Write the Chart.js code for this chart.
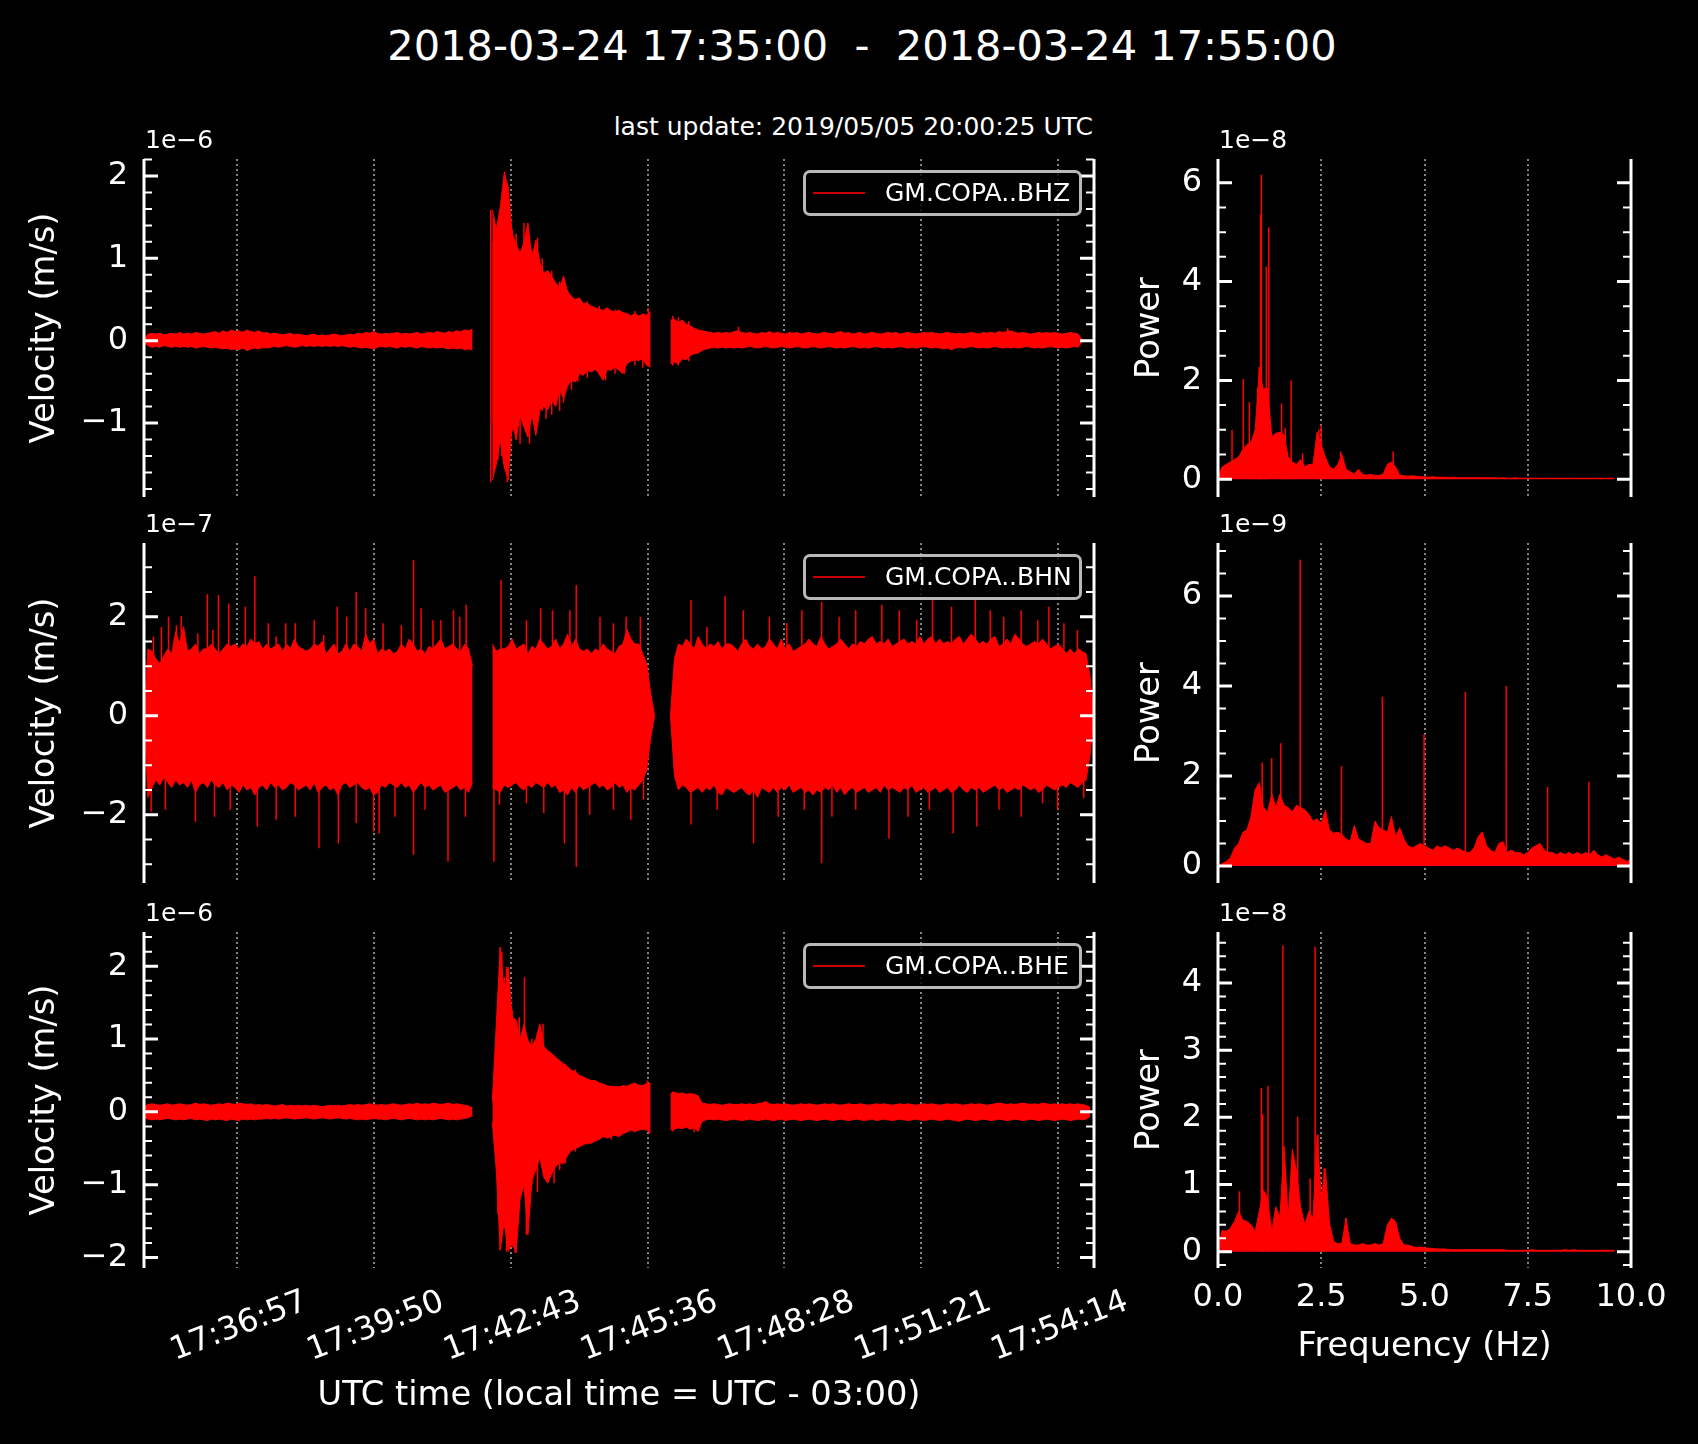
<!DOCTYPE html>
<html>
<head>
<meta charset="utf-8">
<title>GM.COPA seismogram</title>
<script src="https://cdn.jsdelivr.net/npm/chart.js@4.4.1/dist/chart.umd.min.js"></script>
<style>
  html, body { margin:0; padding:0; background:#000; }
  body { width:1698px; height:1444px; position:relative; overflow:hidden; font-family:'DejaVu Sans', sans-serif; color:#fff; }
  canvas { position:absolute; }
  .txt { position:absolute; white-space:pre; color:#fff; }
  .legend { position:absolute; box-sizing:border-box; border:3px solid rgba(255,255,255,0.72); border-radius:7px; background:rgba(0,0,0,0.8); z-index:5; }
  .legend .ln { position:absolute; left:7px; top:19px; width:52px; height:2px; background:#c80000; }
  .legend .lb { position:absolute; left:79px; top:0; line-height:40px; font-size:25px; color:#fff; white-space:pre; }
</style>
</head>
<body>
<div class="txt" style="left:0;width:1724px;text-align:center;top:21px;font-size:41.5px;line-height:50px;">2018-03-24 17:35:00  -  2018-03-24 17:55:00</div>
<div class="txt" style="right:605px;top:112px;font-size:25px;line-height:30px;text-align:right;">last update: 2019/05/05 20:00:25 UTC</div>
<script>
// ---------------- DATA ----------------
const SEIS_STEP_S = 5;

// BHZ velocity, units of 1e-6 m/s
const BHZ_UP = [
 0.02,0.08,0.09,0.08,0.09,0.07,0.08,0.09,0.08,0.10,
 0.08,0.09,0.08,0.10,0.09,0.08,0.09,0.10,0.11,0.09,
 0.12,0.10,0.13,0.11,0.12,0.10,0.13,0.11,0.10,0.12,
 0.09,0.10,0.08,0.09,0.08,0.07,0.08,0.09,0.07,0.08,
 0.07,0.06,0.07,0.08,0.06,0.07,0.06,0.07,0.08,0.07,
 0.06,0.07,0.08,0.07,0.09,0.08,0.10,0.09,0.11,0.09,
 0.08,0.09,0.08,0.09,0.10,0.08,0.09,0.08,0.09,0.10,
 0.08,0.09,0.10,0.09,0.11,0.10,0.09,0.11,0.10,0.12,
 0.11,0.13,0.12,0.14,null,null,null,null,1.59,1.35,
 1.62,2.03,1.87,1.30,1.18,1.05,1.20,1.43,1.00,1.22,
 0.95,0.82,0.85,0.78,0.70,0.65,0.78,0.60,0.53,0.50,
 0.52,0.45,0.45,0.42,0.40,0.38,0.37,0.40,0.36,0.35,
 0.37,0.34,0.33,0.30,0.33,0.30,0.32,0.31,0.35,null,
 null,null,null,0.25,0.26,0.22,0.25,0.20,0.18,0.15,
 0.13,0.12,0.11,0.10,0.09,0.10,0.09,0.10,0.09,0.11,
 0.12,0.10,0.09,0.10,0.09,0.08,0.10,0.09,0.11,0.09,
 0.10,0.09,0.08,0.10,0.09,0.10,0.08,0.09,0.10,0.09,
 0.08,0.09,0.10,0.09,0.08,0.10,0.11,0.09,0.10,0.08,
 0.09,0.10,0.08,0.09,0.10,0.09,0.08,0.09,0.10,0.09,
 0.10,0.08,0.09,0.10,0.09,0.08,0.09,0.10,0.09,0.10,
 0.09,0.08,0.09,0.10,0.09,0.08,0.09,0.08,0.09,0.10,
 0.09,0.08,0.10,0.09,0.10,0.09,0.11,0.10,0.11,0.12,
 0.10,0.09,0.10,0.09,0.08,0.09,0.10,0.09,0.10,0.09,
 0.10,0.09,0.08,0.09,0.10,0.09,0.08,0.01,0.00,null,null];
const BHZ_LO = [
 -0.02,-0.06,-0.08,-0.07,-0.08,-0.06,-0.07,-0.08,-0.07,-0.08,
 -0.07,-0.08,-0.07,-0.09,-0.08,-0.07,-0.08,-0.09,-0.08,-0.09,
 -0.10,-0.09,-0.11,-0.10,-0.11,-0.09,-0.12,-0.10,-0.09,-0.10,
 -0.08,-0.09,-0.08,-0.07,-0.08,-0.07,-0.06,-0.07,-0.08,-0.07,
 -0.06,-0.07,-0.06,-0.07,-0.06,-0.07,-0.06,-0.07,-0.06,-0.07,
 -0.06,-0.07,-0.08,-0.07,-0.08,-0.09,-0.08,-0.09,-0.10,-0.08,
 -0.07,-0.08,-0.07,-0.08,-0.09,-0.07,-0.08,-0.07,-0.08,-0.09,
 -0.07,-0.08,-0.09,-0.08,-0.09,-0.08,-0.09,-0.10,-0.09,-0.10,
 -0.09,-0.11,-0.10,-0.11,null,null,null,null,-1.69,-1.50,
 -1.20,-1.53,-1.69,-1.00,-1.20,-0.90,-1.05,-1.17,-0.90,-1.15,
 -0.85,-0.80,-0.84,-0.72,-0.80,-0.60,-0.70,-0.55,-0.48,-0.50,
 -0.40,-0.42,-0.36,-0.38,-0.35,-0.40,-0.48,-0.35,-0.36,-0.32,
 -0.36,-0.40,-0.28,-0.25,-0.23,-0.24,-0.22,-0.30,-0.32,null,
 null,null,null,-0.28,-0.26,-0.28,-0.22,-0.23,-0.18,-0.16,
 -0.15,-0.12,-0.10,-0.09,-0.08,-0.09,-0.08,-0.09,-0.08,-0.09,
 -0.08,-0.09,-0.08,-0.07,-0.08,-0.09,-0.08,-0.07,-0.08,-0.09,
 -0.08,-0.07,-0.08,-0.09,-0.08,-0.07,-0.08,-0.09,-0.08,-0.07,
 -0.08,-0.09,-0.08,-0.07,-0.08,-0.09,-0.08,-0.09,-0.08,-0.07,
 -0.08,-0.09,-0.08,-0.09,-0.08,-0.07,-0.08,-0.09,-0.08,-0.09,
 -0.08,-0.07,-0.08,-0.09,-0.08,-0.09,-0.08,-0.07,-0.08,-0.09,
 -0.08,-0.09,-0.10,-0.09,-0.11,-0.09,-0.08,-0.09,-0.08,-0.07,
 -0.08,-0.09,-0.08,-0.09,-0.08,-0.07,-0.08,-0.09,-0.08,-0.09,
 -0.08,-0.09,-0.08,-0.07,-0.08,-0.09,-0.08,-0.09,-0.08,-0.07,
 -0.08,-0.09,-0.08,-0.09,-0.08,-0.07,-0.08,-0.01,0.00,null,null];
const BHZ_SPIKE_T  = [438, 441, 447, 452, 455.5, 459, 465, 470, 475, 480, 487, 490, 497, 503, 508, 515, 525, 530, 540, 548, 560, 575, 583, 595, 607, 620, 630, 637, 668, 675, 688, 751, 1091];
const BHZ_SPIKE_LO = [-1.72,-1.00,-1.45,-1.40,-1.00,-1.72,-1.10,-1.20,-1.25,-0.80,-1.25,-0.95,-1.00,-0.85,-0.95,-0.90,-0.85,-0.75,-0.60,-0.50,-0.45,-0.42,-0.48,-0.40,-0.40,-0.30,-0.33,-0.30,-0.30,-0.30,-0.25,-0.05,-0.05];
const BHZ_SPIKE_HI = [1.59,1.20,1.00,1.70,2.05,1.88,1.35,1.30,1.10,1.43,0.90,1.10,1.25,1.00,0.60,0.85,0.72,0.78,0.55,0.50,0.48,0.42,0.30,0.38,0.30,0.36,0.33,0.40,0.30,0.28,0.24,0.17,0.15];

// BHN velocity, units of 1e-7 m/s
const BHN_UP = [
 0.00,1.35,1.30,1.15,1.05,1.20,1.35,1.25,1.70,1.45,
 1.80,1.30,1.35,1.45,1.25,1.35,1.35,1.45,1.35,1.25,
 1.35,1.45,1.40,1.45,1.35,1.45,1.40,1.55,1.45,1.50,
 1.35,1.45,1.35,1.40,1.45,1.30,1.45,1.35,1.55,1.40,
 1.35,1.30,1.35,1.45,1.40,1.50,1.25,1.35,1.45,1.25,
 1.30,1.45,1.30,1.45,1.40,1.30,1.65,1.45,1.55,1.25,
 1.35,1.30,1.35,1.25,1.30,1.45,1.35,1.55,1.45,1.30,
 1.35,1.25,1.40,1.35,1.45,1.55,1.35,1.40,1.45,1.35,
 1.30,1.45,1.35,1.00,null,null,null,null,1.45,1.30,
 1.35,1.35,1.40,1.55,1.35,1.40,1.45,1.25,1.40,1.35,
 1.55,1.45,1.35,1.40,1.55,1.35,1.45,1.65,1.40,1.55,
 1.35,1.30,1.35,1.25,1.35,1.30,1.45,1.35,1.30,1.25,
 1.40,1.45,1.75,1.55,1.45,1.45,1.25,1.05,0.45,0.00,
 null,null,null,0.00,1.15,1.45,1.40,1.55,1.45,1.35,
 1.60,1.45,1.35,1.45,1.40,1.50,1.35,1.45,1.45,1.40,
 1.30,1.45,1.55,1.40,1.35,1.45,1.35,1.40,1.55,1.45,
 1.35,1.55,1.35,1.45,1.30,1.35,1.40,1.45,1.55,1.45,
 1.40,1.60,1.45,1.35,1.40,1.45,1.55,1.45,1.35,1.45,
 1.40,1.50,1.45,1.55,1.60,1.45,1.50,1.45,1.55,1.40,
 1.45,1.50,1.55,1.45,1.50,1.45,1.60,1.45,1.55,1.60,
 1.45,1.55,1.45,1.50,1.45,1.55,1.60,1.45,1.55,1.65,
 1.55,1.45,1.50,1.45,1.55,1.60,1.40,1.45,1.55,1.45,
 1.65,1.55,1.45,1.40,1.45,1.50,1.45,1.55,1.45,1.35,
 1.40,1.45,1.35,1.25,1.35,1.25,1.35,1.30,1.25,0.80,0.00];
const BHN_LO = [
 0.00,-1.65,-1.45,-1.30,-1.40,-1.25,-1.35,-1.45,-1.30,-1.40,
 -1.35,-1.45,-1.30,-1.55,-1.40,-1.35,-1.45,-1.30,-1.40,-1.45,
 -1.35,-1.50,-1.40,-1.45,-1.55,-1.40,-1.50,-1.45,-1.60,-1.45,
 -1.40,-1.50,-1.35,-1.45,-1.40,-1.50,-1.45,-1.35,-1.40,-1.50,
 -1.45,-1.40,-1.50,-1.35,-1.55,-1.45,-1.40,-1.50,-1.45,-1.60,
 -1.40,-1.35,-1.45,-1.40,-1.35,-1.45,-1.50,-1.45,-1.60,-1.55,
 -1.40,-1.45,-1.35,-1.40,-1.45,-1.35,-1.45,-1.40,-1.55,-1.45,
 -1.35,-1.45,-1.40,-1.50,-1.45,-1.40,-1.55,-1.50,-1.45,-1.40,
 -1.50,-1.45,-1.55,-1.35,null,null,null,null,-1.45,-1.50,
 -1.55,-1.40,-1.45,-1.40,-1.35,-1.45,-1.50,-1.40,-1.45,-1.35,
 -1.40,-1.45,-1.35,-1.45,-1.40,-1.55,-1.50,-1.60,-1.45,-1.55,
 -1.40,-1.50,-1.45,-1.40,-1.35,-1.45,-1.40,-1.50,-1.45,-1.35,
 -1.45,-1.40,-1.55,-1.45,-1.50,-1.40,-1.30,-1.10,-0.45,0.00,
 null,null,null,0.00,-1.20,-1.50,-1.40,-1.45,-1.55,-1.50,
 -1.45,-1.55,-1.45,-1.50,-1.40,-1.55,-1.60,-1.45,-1.50,-1.55,
 -1.50,-1.45,-1.55,-1.60,-1.50,-1.65,-1.45,-1.50,-1.55,-1.45,
 -1.55,-1.45,-1.50,-1.40,-1.55,-1.50,-1.45,-1.55,-1.50,-1.60,
 -1.50,-1.55,-1.45,-1.50,-1.40,-1.55,-1.45,-1.60,-1.50,-1.45,
 -1.55,-1.50,-1.45,-1.55,-1.50,-1.45,-1.55,-1.40,-1.50,-1.45,
 -1.50,-1.55,-1.45,-1.50,-1.40,-1.55,-1.50,-1.45,-1.55,-1.50,
 -1.45,-1.55,-1.50,-1.45,-1.55,-1.50,-1.40,-1.50,-1.55,-1.45,
 -1.50,-1.45,-1.55,-1.50,-1.45,-1.40,-1.50,-1.45,-1.55,-1.50,
 -1.45,-1.50,-1.40,-1.45,-1.50,-1.45,-1.55,-1.50,-1.40,-1.45,
 -1.50,-1.45,-1.40,-1.45,-1.35,-1.40,-1.45,-1.35,-1.30,-0.80,0.00];
const BHN_SPIKE_T = [
 9,12,22,27,31,41,47,65,68,80,87,89,94,107,109,128,140,143,157,167,179,191,215,221,227,244,245.5,256,268,280,
 290,297,302,317,325,340.5,350,355,365,375,384,391,399,406,407,442,449,451,483,501,505,516,531,538,546,563,576,593,609,615,
 627,631,691,711,724,734,757,770,790,801,812,831,834,856,869,878,899,932,941,954,965,976,992,996,1020,1022,1050,1052,1069,1080,
 1086,1108,1129,1135,1143,1154,1162,1179,1187];
const BHN_SPIKE_LO = [
 -1.94,0,0,-1.90,0,0,0,-2.14,0,0,0,-2.04,0,0,-1.90,0,0,-2.24,0,-2.10,0,-2.04,0,-2.68,0,0,-2.58,0,-2.17,0,
 -2.34,-2.38,0,-2.04,0,-2.81,0,-1.90,0,0,-2.95,0,0,-2.04,0,-2.95,-1.80,0,-1.77,0,-1.97,0,-2.58,0,-3.05,-2.00,0,-1.90,0,-2.10,
 0,-1.70,-2.20,0,-1.90,0,0,-2.58,0,-2.04,0,0,-1.90,-2.98,-2.04,0,-1.90,0,-2.48,0,-2.04,0,-1.90,0,0,-2.38,0,-2.24,0,-1.90,
 0,-2.04,0,-1.77,0,-1.90,0,0,-1.67];
const BHN_SPIKE_HI = [
 0,1.60,1.80,0,2.00,1.83,2.01,0,1.66,2.46,1.73,0,2.44,2.27,0,2.20,2.82,0,1.87,1.60,1.87,1.87,1.93,0,1.63,2.20,0,2.00,2.50,2.17,
 0,0,1.87,0,1.83,3.14,2.17,0,1.93,1.93,0,2.13,2.00,0,2.24,0,0,2.74,1.93,2.17,0,2.13,0,2.13,2.64,0,2.00,1.87,2.00,0,
 2.00,0,2.34,1.80,0,2.42,2.13,0,2.00,0,1.87,2.13,0,2.30,0,2.00,2.13,2.24,0,2.13,0,1.93,0,2.34,2.20,0,2.34,0,2.13,0,
 2.00,2.13,1.93,0,2.20,0,1.87,1.73,0];

// BHE velocity, units of 1e-6 m/s
const BHE_UP = [
 0.08,0.10,0.11,0.10,0.09,0.10,0.11,0.09,0.10,0.11,
 0.10,0.09,0.10,0.12,0.10,0.11,0.10,0.09,0.10,0.11,
 0.10,0.12,0.11,0.10,0.12,0.11,0.10,0.11,0.09,0.10,
 0.09,0.10,0.09,0.08,0.09,0.10,0.08,0.09,0.08,0.09,
 0.08,0.09,0.08,0.09,0.08,0.07,0.08,0.09,0.08,0.09,
 0.08,0.09,0.10,0.09,0.10,0.09,0.10,0.11,0.10,0.09,
 0.10,0.09,0.10,0.11,0.10,0.09,0.10,0.11,0.10,0.12,
 0.10,0.11,0.10,0.12,0.11,0.10,0.11,0.12,0.10,0.11,
 0.10,0.09,0.08,0.05,null,null,null,null,0.15,1.20,
 2.26,1.60,1.99,1.30,1.26,1.00,1.20,0.98,0.90,1.00,
 1.21,0.90,0.84,0.80,0.75,0.70,0.66,0.62,0.57,0.55,
 0.50,0.48,0.45,0.43,0.43,0.40,0.38,0.36,0.34,0.35,
 0.34,0.36,0.35,0.38,0.39,0.37,0.36,0.39,0.39,null,
 null,null,null,0.25,0.27,0.25,0.26,0.24,0.25,0.24,
 0.22,0.12,0.11,0.10,0.11,0.10,0.09,0.10,0.11,0.10,
 0.10,0.11,0.10,0.11,0.10,0.11,0.12,0.14,0.11,0.10,
 0.11,0.10,0.11,0.10,0.09,0.10,0.11,0.10,0.11,0.10,
 0.09,0.10,0.11,0.10,0.11,0.10,0.09,0.10,0.11,0.10,
 0.10,0.11,0.10,0.09,0.10,0.11,0.10,0.11,0.10,0.09,
 0.10,0.11,0.10,0.11,0.10,0.09,0.10,0.11,0.10,0.11,
 0.10,0.09,0.10,0.11,0.10,0.11,0.10,0.09,0.10,0.11,
 0.10,0.11,0.10,0.09,0.10,0.11,0.12,0.11,0.10,0.11,
 0.10,0.11,0.12,0.11,0.10,0.11,0.10,0.12,0.11,0.10,
 0.11,0.10,0.11,0.10,0.11,0.10,0.11,0.10,0.09,0.06,null];
const BHE_LO = [
 -0.08,-0.10,-0.11,-0.10,-0.11,-0.10,-0.09,-0.10,-0.11,-0.10,
 -0.11,-0.10,-0.09,-0.11,-0.10,-0.11,-0.12,-0.10,-0.11,-0.10,
 -0.11,-0.12,-0.10,-0.11,-0.12,-0.10,-0.11,-0.10,-0.11,-0.10,
 -0.10,-0.09,-0.10,-0.09,-0.10,-0.09,-0.08,-0.09,-0.10,-0.09,
 -0.09,-0.08,-0.09,-0.10,-0.09,-0.08,-0.09,-0.10,-0.09,-0.08,
 -0.09,-0.10,-0.09,-0.10,-0.11,-0.10,-0.11,-0.10,-0.09,-0.10,
 -0.10,-0.11,-0.10,-0.09,-0.10,-0.11,-0.10,-0.09,-0.10,-0.11,
 -0.10,-0.11,-0.10,-0.11,-0.10,-0.09,-0.10,-0.11,-0.10,-0.11,
 -0.10,-0.09,-0.08,-0.05,null,null,null,null,-0.15,-0.80,
 -1.90,-1.50,-1.92,-1.80,-1.94,-1.20,-1.00,-1.69,-0.94,-0.80,
 -0.62,-0.90,-0.98,-0.85,-0.75,-0.70,-0.71,-0.60,-0.53,-0.50,
 -0.48,-0.45,-0.43,-0.43,-0.40,-0.38,-0.34,-0.36,-0.34,-0.32,
 -0.34,-0.30,-0.28,-0.25,-0.27,-0.25,-0.24,-0.25,-0.30,null,
 null,null,null,-0.25,-0.24,-0.22,-0.23,-0.21,-0.24,-0.22,
 -0.27,-0.13,-0.11,-0.10,-0.11,-0.10,-0.11,-0.12,-0.11,-0.10,
 -0.11,-0.12,-0.11,-0.10,-0.11,-0.12,-0.11,-0.10,-0.11,-0.12,
 -0.11,-0.10,-0.12,-0.11,-0.10,-0.11,-0.12,-0.11,-0.10,-0.11,
 -0.12,-0.11,-0.10,-0.11,-0.12,-0.11,-0.10,-0.11,-0.12,-0.11,
 -0.10,-0.11,-0.12,-0.11,-0.10,-0.12,-0.11,-0.10,-0.11,-0.12,
 -0.11,-0.10,-0.11,-0.12,-0.11,-0.10,-0.11,-0.12,-0.11,-0.10,
 -0.11,-0.12,-0.11,-0.10,-0.11,-0.12,-0.13,-0.11,-0.10,-0.11,
 -0.12,-0.11,-0.10,-0.11,-0.12,-0.11,-0.10,-0.11,-0.12,-0.11,
 -0.10,-0.11,-0.12,-0.11,-0.10,-0.11,-0.12,-0.11,-0.10,-0.11,
 -0.12,-0.11,-0.10,-0.11,-0.12,-0.11,-0.10,-0.11,-0.10,-0.06,null];
const BHE_SPIKE_T  = [447, 450, 452, 455, 458, 460, 465, 469, 474, 480.6, 483, 490, 497, 504, 510, 518, 525, 532, 545, 560, 590, 620, 636, 668, 695, 784.5];
const BHE_SPIKE_LO = [-1.40,-1.90,-1.50,-1.60,-1.92,-1.80,-1.85,-1.94,-1.30,-1.00,-1.69,-1.00,-1.10,-0.62,-0.90,-0.98,-0.80,-0.71,-0.55,-0.45,-0.38,-0.28,-0.20,-0.27,-0.28,-0.05];
const BHE_SPIKE_HI = [1.30,2.26,2.20,1.85,1.99,1.95,1.40,1.26,1.30,1.85,0.90,1.00,0.90,1.21,0.84,0.60,0.70,0.66,0.58,0.45,0.36,0.40,0.43,0.28,0.25,0.14];

// Power spectra, sampled every 0.1 Hz from 0 Hz
const PSD_STEP_HZ = 0.1;
const BHZ_PSD = [ // 1e-8
 0.05,0.25,0.30,0.35,0.40,0.45,0.60,0.70,0.75,1.00,
 2.20,1.80,1.85,0.86,0.93,0.95,0.90,0.45,0.35,0.30,
 0.40,0.25,0.30,0.30,0.95,0.70,0.45,0.25,0.20,0.30,
 0.50,0.20,0.15,0.10,0.20,0.10,0.08,0.10,0.07,0.08,
 0.10,0.30,0.35,0.25,0.08,0.07,0.06,0.07,0.06,0.05,
 0.05,0.04,0.05,0.04,0.04,0.04,0.03,0.04,0.03,0.03,
 0.03,0.03,0.03,0.03,0.03,0.03,0.03,0.03,0.02,0.03,
 0.02,0.02,0.03,0.02,0.02,0.02,0.02,0.02,0.02,0.02,
 0.02,0.02,0.02,0.02,0.02,0.02,0.02,0.02,0.02,0.02,
 0.02,0.02,0.02,0.02,0.02,0.02,0.02,null,null,null,null];
const BHZ_PSD_SPIKE_F = [0.34,0.61,0.76,0.96,1.00,1.03,1.05,1.12,1.17,1.23,1.54,1.63,1.77,2.05,2.44,2.50,2.97,4.24];
const BHZ_PSD_SPIKE_P = [1.00,2.03,1.56,1.85,2.27,5.36,6.16,1.85,4.30,5.10,1.53,1.03,2.00,0.52,1.00,1.10,0.56,0.56];

const BHN_PSD = [ // 1e-9
 0.02,0.05,0.10,0.18,0.40,0.50,0.75,0.80,1.10,1.70,
 1.85,1.30,1.20,1.60,1.30,1.60,1.35,1.30,1.20,1.35,
 1.30,1.25,1.15,1.00,1.05,0.95,1.24,0.80,0.73,0.75,
 0.70,0.60,0.55,0.90,0.60,0.55,0.50,0.50,1.00,0.85,
 0.80,0.75,1.10,0.65,0.85,0.60,0.45,0.40,0.45,0.50,
 0.45,0.40,0.35,0.45,0.40,0.45,0.40,0.35,0.40,0.35,
 0.30,0.30,0.40,0.65,0.76,0.45,0.35,0.30,0.50,0.54,
 0.30,0.35,0.30,0.30,0.25,0.30,0.40,0.45,0.50,0.35,
 0.30,0.30,0.25,0.30,0.25,0.30,0.25,0.30,0.25,0.30,
 0.25,0.35,0.25,0.20,0.25,0.20,0.15,0.20,0.15,0.10,0.15];
const BHN_PSD_SPIKE_F = [0.83,1.07,1.30,1.52,1.99,2.99,3.98,4.99,5.99,6.98,7.98,8.98];
const BHN_PSD_SPIKE_P = [1.13,2.30,2.40,2.73,6.81,2.22,3.76,2.93,3.87,4.00,1.76,1.87];

const BHE_PSD = [ // 1e-8
 0.05,0.32,0.30,0.35,0.45,0.60,0.47,0.45,0.40,0.30,
 0.60,0.92,0.80,0.30,0.67,0.50,1.57,0.50,1.52,1.20,
 0.67,0.40,0.60,0.50,1.74,0.80,1.24,0.42,0.15,0.12,
 0.12,0.50,0.12,0.10,0.10,0.12,0.10,0.10,0.12,0.10,
 0.12,0.40,0.50,0.45,0.20,0.10,0.10,0.08,0.06,0.07,
 0.06,0.05,0.05,0.04,0.04,0.04,0.03,0.03,0.03,0.03,
 0.03,0.03,0.03,0.03,0.03,0.03,0.03,0.03,0.03,0.03,
 0.02,0.02,0.02,0.02,0.02,0.02,0.03,0.02,0.02,0.02,
 0.02,0.02,0.02,0.02,0.03,0.02,0.03,0.02,0.02,0.02,
 0.02,0.02,0.02,0.02,0.02,0.02,0.02,null,null,null,null];
const BHE_PSD_SPIKE_F = [0.52,1.05,1.08,1.21,1.57,1.93,2.23,2.35,2.42,2.57,3.10];
const BHE_PSD_SPIKE_P = [0.90,2.44,2.05,2.47,4.56,2.01,1.09,4.54,1.74,1.24,0.50];

// Axis ticks and labels
const TIME_TICKS_S = [117.6, 290.4, 463.2, 636.0, 808.8, 981.6, 1154.4];
const TIME_TICK_LABELS = ['17:36:57','17:39:50','17:42:43','17:45:36','17:48:28','17:51:21','17:54:14'];
const FREQ_TICKS_HZ = [0, 2.5, 5, 7.5, 10];
const FREQ_TICK_LABELS = ['0.0','2.5','5.0','7.5','10.0'];
const BHZ_VEL_TICKS = [-1, 0, 1, 2];      const BHZ_VEL_LABELS = ['\u22121','0','1','2'];
const BHN_VEL_TICKS = [-2, 0, 2];         const BHN_VEL_LABELS = ['\u22122','0','2'];
const BHE_VEL_TICKS = [-2, -1, 0, 1, 2];  const BHE_VEL_LABELS = ['\u22122','\u22121','0','1','2'];
const BHZ_PSD_TICKS = [0, 2, 4, 6];       const BHZ_PSD_LABELS = ['0','2','4','6'];
const BHN_PSD_TICKS = [0, 2, 4, 6];       const BHN_PSD_LABELS = ['0','2','4','6'];
const BHE_PSD_TICKS = [0, 1, 2, 3, 4];    const BHE_PSD_LABELS = ['0','1','2','3','4'];
const LEGEND_LABELS = ['GM.COPA..BHZ', 'GM.COPA..BHN', 'GM.COPA..BHE'];
const OFFSET_LABELS = ['1e\u22126', '1e\u22127', '1e\u22126', '1e\u22128', '1e\u22129', '1e\u22128'];

// ---------------- STYLE / LAYOUT ----------------
const RED = '#ff0000';
const GRID_COLOR = 'rgba(175,175,175,0.75)';
const TICK_FONT = 32;
const LABEL_FONT = 33.7;
Chart.defaults.font.family = "'DejaVu Sans', sans-serif";
Chart.defaults.color = '#ffffff';

const spinePlugin = {
  id: 'mplSpines',
  afterDraw(chart, args, o) {
    if (!o || !o.major) return;
    const ctx = chart.ctx, a = chart.chartArea, ys = chart.scales.y;
    ctx.save();
    ctx.strokeStyle = '#ffffff';
    ctx.lineCap = 'butt';
    ctx.lineWidth = 3;
    ctx.beginPath();
    ctx.moveTo(a.left, a.top); ctx.lineTo(a.left, a.bottom);
    ctx.moveTo(a.right, a.top); ctx.lineTo(a.right, a.bottom);
    ctx.stroke();
    const ticks = (vals, len, w) => {
      ctx.lineWidth = w;
      ctx.beginPath();
      vals.forEach(v => {
        const p = ys.getPixelForValue(v);
        ctx.moveTo(a.left, p); ctx.lineTo(a.left + len, p);
        ctx.moveTo(a.right, p); ctx.lineTo(a.right - len, p);
      });
      ctx.stroke();
    };
    ticks(o.major, 14, 3);
    ticks(o.minor, 8, 2);
    ctx.restore();
  }
};
Chart.register(spinePlugin);

function minorTicks(min, max, step, majors) {
  const out = [];
  for (let k = Math.ceil(min / step - 1e-9); k * step <= max + 1e-9; k++) {
    const v = Math.round(k * step * 1e6) / 1e6;
    if (!majors.some(m => Math.abs(m - v) < 1e-9)) out.push(v);
  }
  return out;
}
function gridPts(values, step) {
  return values.map((v, i) => ({ x: Math.round(i * step * 1000) / 1000, y: v }));
}
function spikePts(xs, lo, hi) {
  const out = [];
  xs.forEach((x, i) => {
    out.push({ x: x, y: lo ? lo[i] : 0 }, { x: x, y: hi[i] }, { x: x, y: null });
  });
  return out;
}
function seisDatasets(up, lo, st, sl, sh) {
  return [
    { data: gridPts(up, SEIS_STEP_S), borderColor: RED, backgroundColor: RED, borderWidth: 1, fill: false },
    { data: gridPts(lo, SEIS_STEP_S), borderColor: RED, backgroundColor: RED, borderWidth: 1, fill: '-1' },
    { data: spikePts(st, sl, sh), borderColor: RED, backgroundColor: RED, borderWidth: 1.5, fill: false }
  ];
}
function psdDatasets(p, sf, sp) {
  return [
    { data: gridPts(p, PSD_STEP_HZ), borderColor: RED, backgroundColor: RED, borderWidth: 1, fill: 'origin' },
    { data: spikePts(sf, null, sp), borderColor: RED, backgroundColor: RED, borderWidth: 1.5, fill: false }
  ];
}

const COLS = {
  left:  { left: 0,    w: 1140, yAxisW: 144, padRight: 46, yTitlePad: 25, yTitle: 'Velocity (m/s)' },
  right: { left: 1110, w: 588,  yAxisW: 108, padRight: 67, yTitlePad: 20.5, yTitle: 'Power' }
};
const ROWS = [
  { top: 140, h: 370, padTop: 19, padBottom: 13, xAxisH: 0,   showX: false },
  { top: 525, h: 370, padTop: 18, padBottom: 12, xAxisH: 0,   showX: false },
  { top: 915, h: 529, padTop: 17, padBottom: 0,  xAxisH: 176, showX: true }
];

function timeAxis(row) {
  return {
    type: 'linear', min: 0, max: 1200, z: 1,
    afterBuildTicks: s => { s.ticks = TIME_TICKS_S.map(v => ({ value: v })); },
    afterFit: s => { s.height = row.xAxisH; s.paddingLeft = 0; s.paddingRight = 0; },
    grid: { display: true, color: GRID_COLOR, lineWidth: 2, drawTicks: false },
    border: { display: false, dash: [2, 3] },
    ticks: { display: row.showX, autoSkip: false, minRotation: 21, maxRotation: 21, padding: 15, labelOffset: 69,
             color: '#fff', font: { size: TICK_FONT }, callback: (v, i) => TIME_TICK_LABELS[i] },
    title: { display: row.showX, text: 'UTC time (local time = UTC - 03:00)', color: '#fff', font: { size: LABEL_FONT }, padding: { top: 4, bottom: 27.5 } }
  };
}
function freqAxis(row) {
  return {
    type: 'linear', min: 0, max: 10, z: 1,
    afterBuildTicks: s => { s.ticks = FREQ_TICKS_HZ.map(v => ({ value: v })); },
    afterFit: s => { s.height = row.xAxisH; s.paddingLeft = 0; s.paddingRight = 0; },
    grid: { display: true, color: GRID_COLOR, lineWidth: 2, drawTicks: false },
    border: { display: false, dash: [2, 3] },
    ticks: { display: row.showX, autoSkip: false, minRotation: 0, maxRotation: 0, padding: 10,
             color: '#fff', font: { size: TICK_FONT }, callback: (v, i) => FREQ_TICK_LABELS[i] },
    title: { display: row.showX, text: 'Frequency (Hz)', color: '#fff', font: { size: LABEL_FONT }, padding: { top: 4, bottom: 76.5 } }
  };
}
function yAxis(col, cfg) {
  return {
    type: 'linear', min: cfg.min, max: cfg.max,
    afterBuildTicks: s => { s.ticks = cfg.ticks.map(v => ({ value: v })); },
    afterFit: s => { s.width = col.yAxisW; s.paddingTop = 0; s.paddingBottom = 0; },
    grid: { display: false, drawTicks: false },
    border: { display: false },
    ticks: { color: '#fff', font: { size: TICK_FONT }, padding: 16, callback: (v, i) => cfg.labels[i] },
    title: { display: true, text: col.yTitle, color: '#fff', font: { size: LABEL_FONT }, padding: { top: col.yTitlePad, bottom: 0 } }
  };
}

function addDiv(cls, text, styles) {
  const d = document.createElement('div');
  d.className = cls;
  if (text !== null) d.textContent = text;
  Object.assign(d.style, styles);
  document.body.appendChild(d);
  return d;
}

function panel(colKey, rowIdx, datasets, xAxis, ycfg, minorStep, offsetLabel, legendLabel) {
  const col = COLS[colKey], row = ROWS[rowIdx];
  const cv = document.createElement('canvas');
  cv.width = col.w; cv.height = row.h;
  Object.assign(cv.style, { left: col.left + 'px', top: row.top + 'px', width: col.w + 'px', height: row.h + 'px' });
  document.body.appendChild(cv);
  const chart = new Chart(cv, {
    type: 'line',
    data: { datasets: datasets },
    options: {
      responsive: false, animation: false, devicePixelRatio: 1,
      layout: { padding: { top: row.padTop, right: col.padRight, bottom: row.padBottom, left: 0 } },
      elements: { point: { radius: 0, hitRadius: 0 }, line: { tension: 0 } },
      plugins: {
        legend: { display: false }, tooltip: { enabled: false },
        mplSpines: { major: ycfg.ticks, minor: minorTicks(ycfg.min, ycfg.max, minorStep, ycfg.ticks) }
      },
      scales: { x: xAxis(row), y: yAxis(col, ycfg) }
    }
  });
  const a = chart.chartArea;
  const gx = col.left, gy = row.top;
  addDiv('txt', offsetLabel, { left: (gx + a.left + 1) + 'px', top: (gy + a.top - 19.5 - 15) + 'px', fontSize: '25px', lineHeight: '30px' });
  if (legendLabel) {
    const lg = addDiv('legend', null, { left: (gx + a.right - 12 - 279) + 'px', top: (gy + a.top + 11) + 'px', width: '279px', height: '46px' });
    const ln = document.createElement('div'); ln.className = 'ln'; lg.appendChild(ln);
    const lb = document.createElement('div'); lb.className = 'lb'; lb.textContent = legendLabel; lg.appendChild(lb);
  }
  return chart;
}

panel('left', 0, seisDatasets(BHZ_UP, BHZ_LO, BHZ_SPIKE_T, BHZ_SPIKE_LO, BHZ_SPIKE_HI), timeAxis,
      { min: -1.898, max: 2.206, ticks: BHZ_VEL_TICKS, labels: BHZ_VEL_LABELS }, 0.2, OFFSET_LABELS[0], LEGEND_LABELS[0]);
panel('left', 1, seisDatasets(BHN_UP, BHN_LO, BHN_SPIKE_T, BHN_SPIKE_LO, BHN_SPIKE_HI), timeAxis,
      { min: -3.38, max: 3.49, ticks: BHN_VEL_TICKS, labels: BHN_VEL_LABELS }, 0.5, OFFSET_LABELS[1], LEGEND_LABELS[1]);
panel('left', 2, seisDatasets(BHE_UP, BHE_LO, BHE_SPIKE_T, BHE_SPIKE_LO, BHE_SPIKE_HI), timeAxis,
      { min: -2.145, max: 2.47, ticks: BHE_VEL_TICKS, labels: BHE_VEL_LABELS }, 0.2, OFFSET_LABELS[2], LEGEND_LABELS[2]);
panel('right', 0, psdDatasets(BHZ_PSD, BHZ_PSD_SPIKE_F, BHZ_PSD_SPIKE_P), freqAxis,
      { min: -0.36, max: 6.48, ticks: BHZ_PSD_TICKS, labels: BHZ_PSD_LABELS }, 0.5, OFFSET_LABELS[3], null);
panel('right', 1, psdDatasets(BHN_PSD, BHN_PSD_SPIKE_F, BHN_PSD_SPIKE_P), freqAxis,
      { min: -0.378, max: 7.18, ticks: BHN_PSD_TICKS, labels: BHN_PSD_LABELS }, 0.5, OFFSET_LABELS[4], null);
panel('right', 2, psdDatasets(BHE_PSD, BHE_PSD_SPIKE_F, BHE_PSD_SPIKE_P), freqAxis,
      { min: -0.243, max: 4.76, ticks: BHE_PSD_TICKS, labels: BHE_PSD_LABELS }, 0.2, OFFSET_LABELS[5], null);
</script>
</body>
</html>
